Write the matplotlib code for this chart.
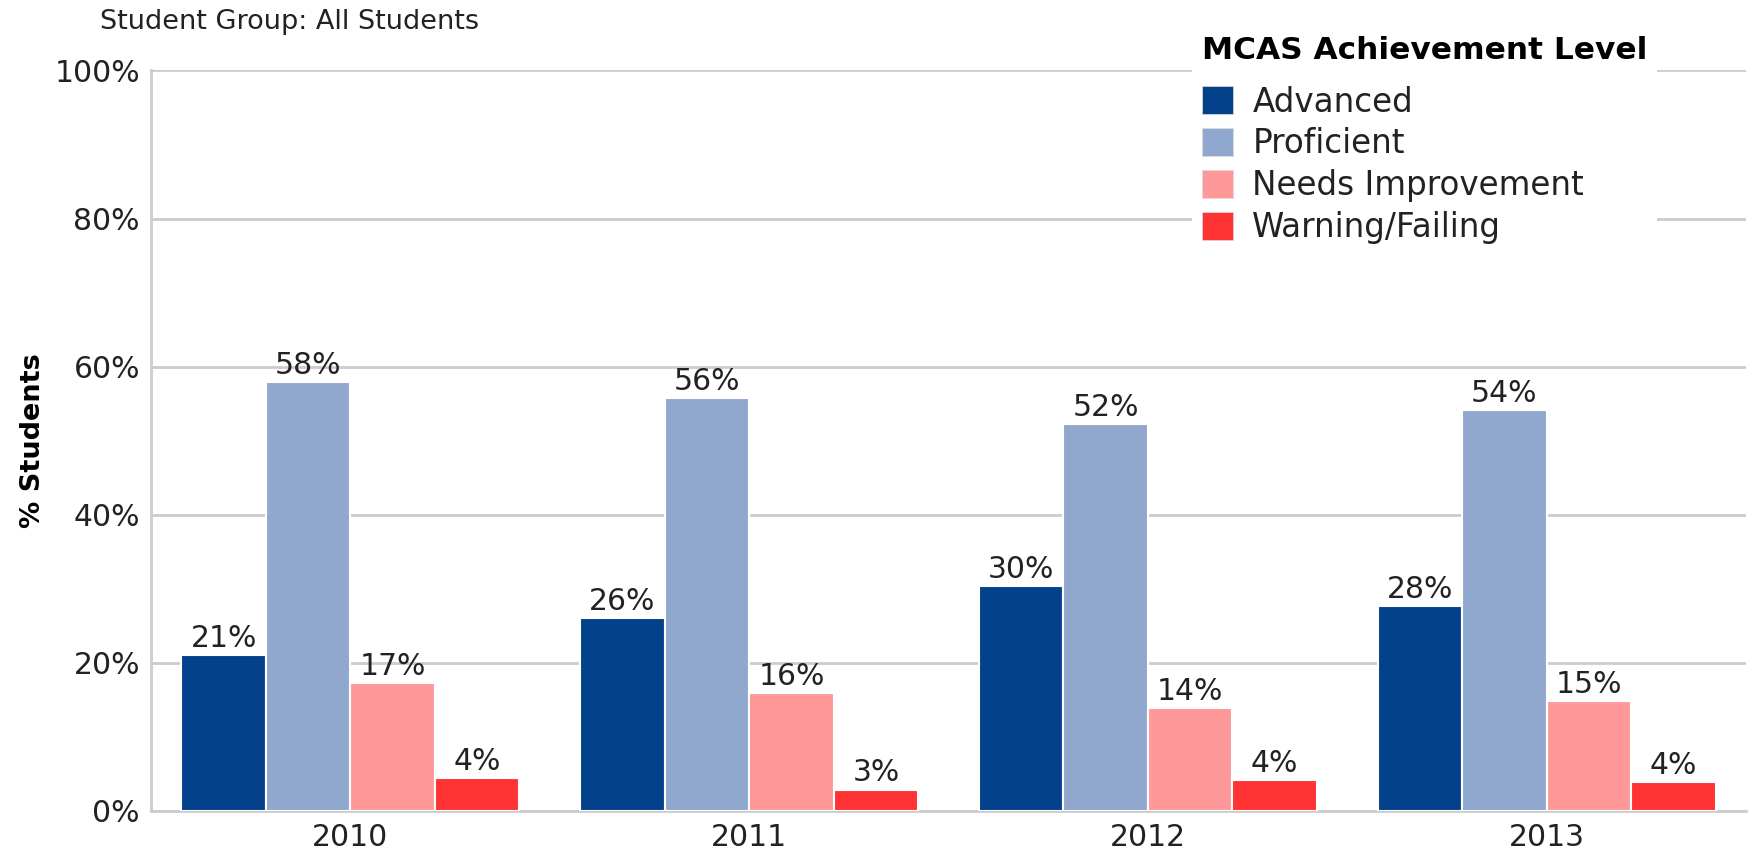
import matplotlib
matplotlib.use("Agg")
import matplotlib.pyplot as plt
from matplotlib.patches import Patch
import numpy as np

# data (% of students)
years = ["2010", "2011", "2012", "2013"]
levels = ["Advanced", "Proficient", "Needs Improvement", "Warning/Failing"]
advanced = [21.0, 26.0, 30.4, 27.7]
proficient = [57.9, 55.8, 52.2, 54.2]
needs_improvement = [17.3, 15.9, 13.9, 14.9]
warning_failing = [4.4, 2.9, 4.2, 3.9]
yticks = [0, 20, 40, 60, 80, 100]

colors = ["#03428A", "#91A8CE", "#FF9999", "#FF3333"]
series = [advanced, proficient, needs_improvement, warning_failing]

plt.rcParams["font.family"] = "DejaVu Sans"

fig = plt.figure(figsize=(17.52, 8.56), dpi=100)
ax = fig.add_axes([151 / 1752, 1 - 811 / 856, (1746 - 151) / 1752, (811 - 70.4) / 856])

x = np.arange(len(years))
pitch = 0.212
for i, (vals, col) in enumerate(zip(series, colors)):
    bars = ax.bar(x + (i - 1.5) * pitch, vals, width=pitch, color=col,
                  edgecolor="white", linewidth=1.5, zorder=3)
    ax.bar_label(bars, fmt=lambda v: "{:.0f}%".format(v), padding=1.5,
                 fontsize=21.5, color="#222222")

ax.set_xlim(-0.5, len(years) - 0.5)
ax.set_ylim(0, 100)
ax.set_xticks(x)
ax.set_xticklabels(years, fontsize=21.5, color="#222222")
ax.set_yticks(yticks)
ax.set_yticklabels(["{}%".format(t) for t in yticks], fontsize=21.5, color="#222222")
ax.tick_params(length=0, pad=8)
ax.tick_params(axis="x", pad=9)

ax.grid(axis="y", color="#CCCCCC", linewidth=2, zorder=0)
for s in ["top", "right"]:
    ax.spines[s].set_visible(False)
ax.spines["left"].set_color("#CCCCCC")
ax.spines["left"].set_linewidth(2)
ax.spines["bottom"].set_color("#CCCCCC")
ax.spines["bottom"].set_linewidth(2)

fig.text(33 / 1752, 1 - 441 / 856, "% Students", rotation=90, fontsize=19.5,
         fontweight="bold", ha="center", va="center")
fig.text(100 / 1752, 1 - 22 / 856, "Student Group: All Students", fontsize=19.5,
         ha="left", va="center", color="#222222")

handles = [Patch(facecolor=c, edgecolor="#DDDDDD", linewidth=0.5) for c in colors]
leg = ax.legend(handles, levels, loc="upper left",
                bbox_to_anchor=(1192 / 1752, 1 - 26 / 856),
                bbox_transform=fig.transFigure,
                title="MCAS Achievement Level", fontsize=23.5,
                title_fontproperties={"weight": "bold", "size": 22.5},
                frameon=True, facecolor="white", edgecolor="none", framealpha=1,
                handlelength=0.95, handleheight=0.95, handletextpad=0.6,
                labelspacing=0.27, borderpad=0.3, borderaxespad=0)
leg._legend_box.align = "left"
leg._legend_box.sep = 15
leg.set_zorder(5)
for t in leg.get_texts():
    t.set_color("#222222")

fig.savefig("out.png", dpi=100)
